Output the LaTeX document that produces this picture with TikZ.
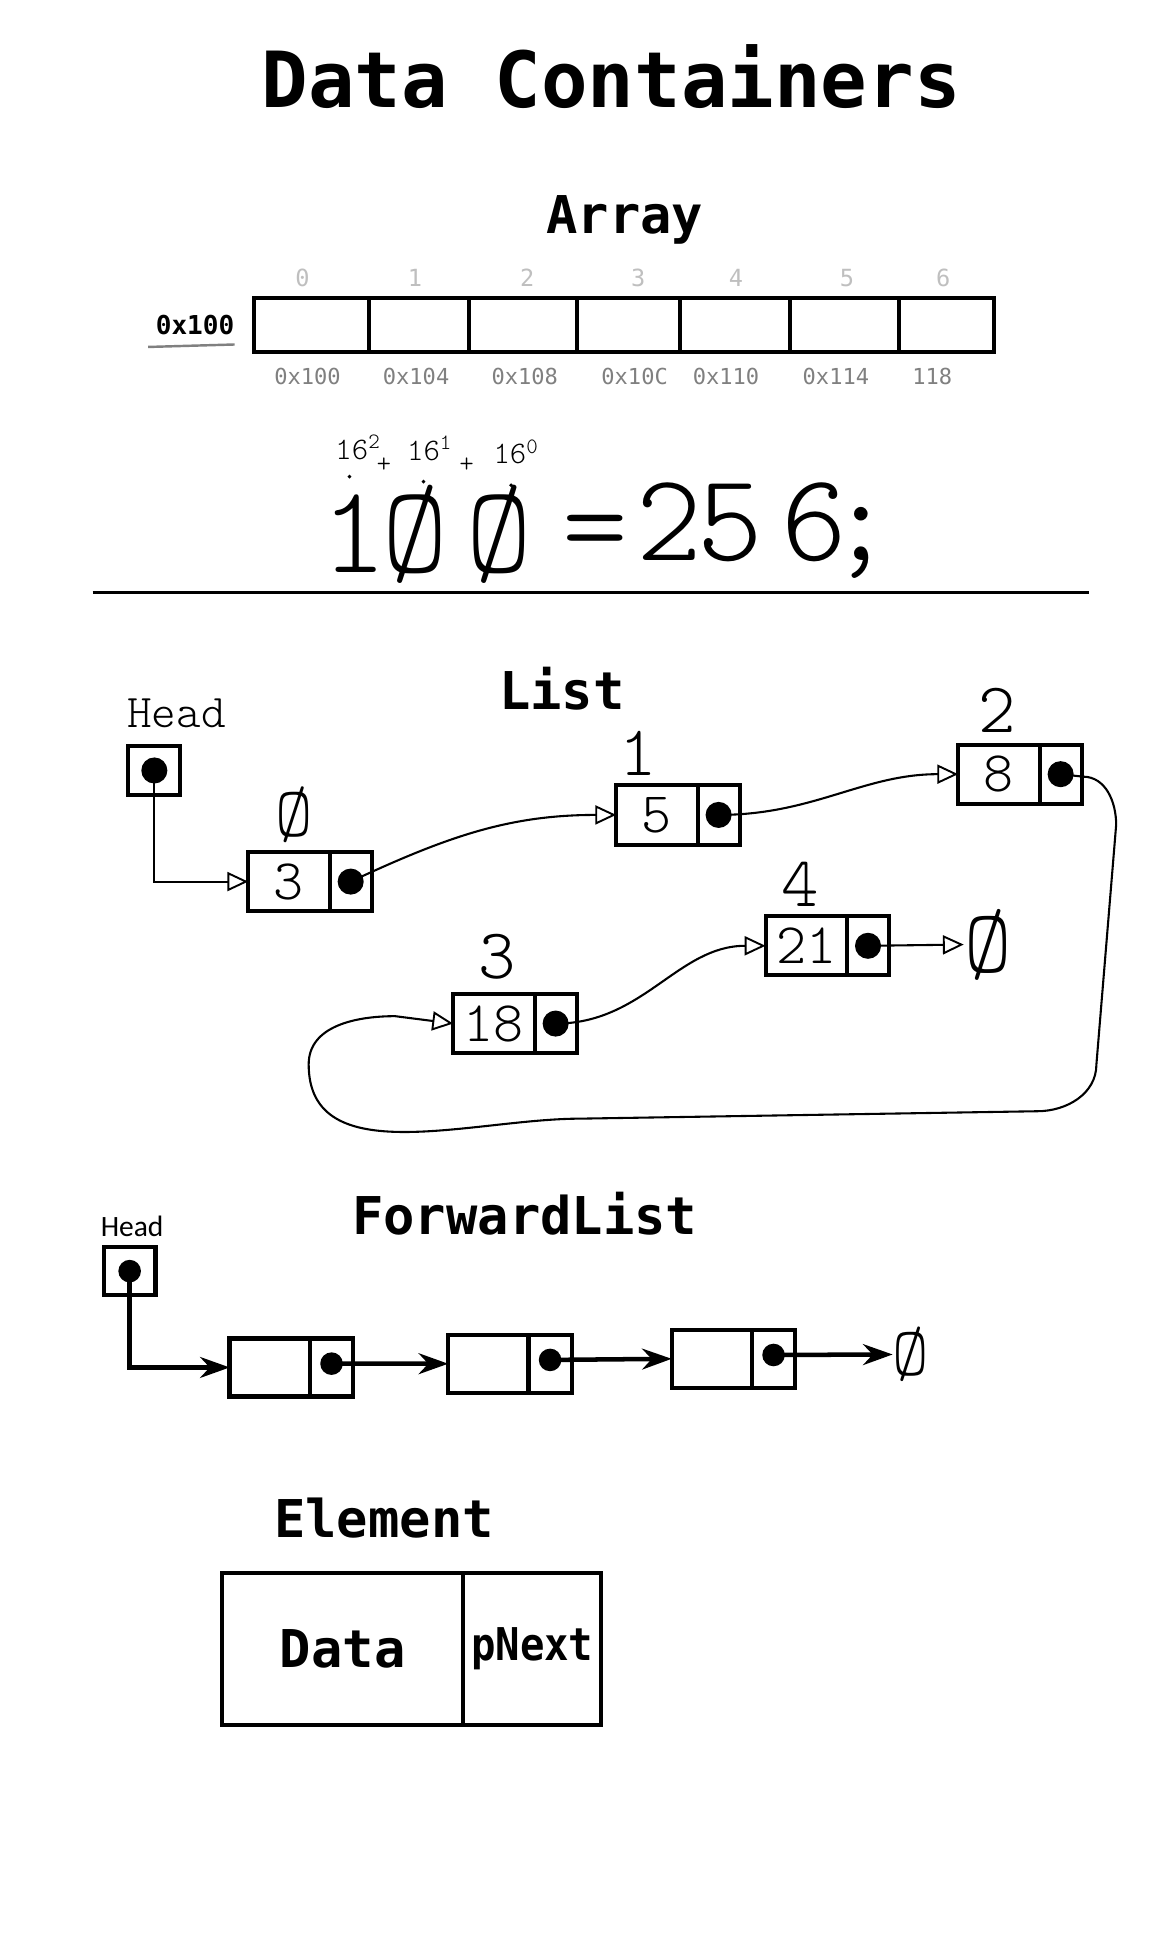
\documentclass[tikz,border=0pt]{standalone}
\usepackage{fontspec}
\setmonofont{DejaVu Sans Mono}
\newfontfamily\headfont{Carlito}
\newfontfamily\handfont{lmmonolt10-regular.otf}
\usetikzlibrary{arrows.meta}

\tikzset{
  title/.style={font=\ttfamily\bfseries\fontsize{30}{36}\selectfont, anchor=base, inner sep=0pt},
  hand/.style={font=\handfont\fontsize{#1}{#1}\selectfont, inner sep=0pt},
  hand/.default=41,
  box/.style={draw, line width=2.3pt, outer sep=0pt, inner sep=0pt},
  arrcell/.style={box, minimum height=1.1cm, anchor=north west},
  idx/.style={font=\ttfamily\fontsize{13.6}{16}\selectfont, text=black!25, anchor=base, inner sep=0pt},
  addr/.style={font=\ttfamily\fontsize{12.7}{15}\selectfont, text=black!50, anchor=base, inner sep=0pt},
  headbox/.style={box, minimum width=1.05cm, minimum height=1cm, anchor=north west},
  datacell/.style={box, minimum width=1.65cm, minimum height=1.2cm, anchor=north west, font=\handfont\fontsize{33}{33}\selectfont},
  ptrcell/.style={box, minimum width=0.85cm, minimum height=1.2cm, anchor=west},
  fdatacell/.style={box, line width=2.5pt, minimum width=1.625cm, minimum height=1.175cm, anchor=north west},
  fptrcell/.style={box, line width=2.5pt, minimum width=0.875cm, minimum height=1.175cm, anchor=west},
  ptrdot/.style={circle, fill, inner sep=0pt, minimum size=15pt},
  fptrdot/.style={circle, fill, inner sep=0pt, minimum size=13pt},
  link/.style={line width=1.2pt, -{Triangle[open, length=12pt, width=11pt, line width=1.1pt]}},
  flink/.style={line width=2.6pt, -{Stealth[length=17pt, width=12pt]}},
}

\begin{document}
\begin{tikzpicture}[x=0.025cm, y=-0.025cm]
  \fill[white] (0,0) rectangle (940,1568);
  \useasboundingbox (0,0) rectangle (940,1568);

  % title
  \node[title, font=\ttfamily\bfseries\fontsize{44.6}{50}\selectfont] (top) at (495,87) {Data Containers};

  %%% Array
  \node[title] (arr) at (506,189) {Array};
  \node[anchor=base, inner sep=0pt, font=\ttfamily\bfseries\fontsize{15}{18}\selectfont] (start) at (158,271) {0x100};
  \draw[line width=1.4pt, color=black!50] (120,281) -- (190,279);

  \foreach \i/\a/\b/\lx/\ax/\addr in {0/206/299/245/249/0x100, 1/299/380/336/337/0x104,
      2/380/467/427/425/0x108, 3/467/551/517/514/0x10C, 4/551/640/596/588/0x110,
      5/640/728/686/677/0x114, 6/728/805/764/755/118}
  {
    \node[arrcell, minimum width={(\b-\a)*0.025cm}] (a\i) at (\a,241) {};
    \node[idx] (i\i) at (\lx,232) {\i};
    \node[addr] (m\i) at (\ax,311) {\addr};
  }

  % 100 = 256
  \node[hand=18] (e2) at (290,362) {16\textsuperscript{2}};
  \node[hand=16] (s1) at (311,377) {+};
  \node[hand=18] (e1) at (348,363) {16\textsuperscript{1}};
  \node[hand=16] (s2) at (378,377) {+};
  \node[hand=18] (e0) at (418,366) {16\textsuperscript{0}};
  \fill (283,386) circle (1.6);
  \fill (343,390) circle (1.6);
  \fill (414,393) circle (1.6);

  \node[hand=72] (hundred) at (346,433) {1\kern-3pt Ø\kern11pt Ø};
  \node[hand=72] (eq) at (482,438) {=};
  \node[hand=72] (result) at (620,430) {2\kern-3pt 5\kern11pt 6\kern-11pt ;};

  \draw[line width=2pt] (75,480) -- (882,480);

  %%% List
  \node[title] (lst) at (455,575) {List};
  \node[hand=27] (lheadlbl) at (143,578) {Head};
  \node[headbox] (lh) at (104,604) {};
  \node[ptrdot] (lho) at (lh.center) {};

  \node[datacell] (l0d) at (201,690) {3};
  \node[ptrcell] (l0p) at (l0d.east) {};
  \node[ptrdot] (l0o) at (l0p.center) {};
  \node[hand] (l0n) at (238,660) {Ø};

  \node[datacell] (l1d) at (499,636) {5};
  \node[ptrcell] (l1p) at (l1d.east) {};
  \node[ptrdot] (l1o) at (l1p.center) {};
  \node[hand] (l1n) at (517,610) {1};

  \node[datacell] (l2d) at (776,603) {8};
  \node[ptrcell] (l2p) at (l2d.east) {};
  \node[ptrdot] (l2o) at (l2p.center) {};
  \node[hand] (l2n) at (808,575) {2};

  \node[datacell] (l3d) at (367,805) {18};
  \node[ptrcell] (l3p) at (l3d.east) {};
  \node[ptrdot] (l3o) at (l3p.center) {};
  \node[hand] (l3n) at (403,775) {3};

  \node[datacell] (l4d) at (620,742) {21};
  \node[ptrcell] (l4p) at (l4d.east) {};
  \node[ptrdot] (l4o) at (l4p.center) {};
  \node[hand] (l4n) at (648,716) {4};

  \node[hand=52] (lnull) at (800,765) {Ø};

  \draw[link] (lho.center) |- (l0d.west);
  \draw[link] (l0o.center) to[out=25, in=180] (l1d.west);
  \draw[link] (l1o.center) to[out=0, in=180] (l2d.west);
  \draw[link] (l2o.center) -- ++(18,2) to[out=0, in=90] (904,668) -- (888,862)
    to[out=-90, in=0] (840,900) -- (470,906) to[out=180, in=-90] (250,862)
    to[out=90, in=180] (320,823) -- (l3d.west);
  \draw[link] (l3o.center) to[out=0, in=180] (l4d.west);
  \draw[link] (l4o.center) -- (lnull.west);

  %%% ForwardList
  \node[title] (fwd) at (425,1000) {ForwardList};
  \node[font=\headfont\fontsize{17}{20}\selectfont, inner sep=0pt] (fheadlbl) at (107,993) {Head};
  \node[headbox, line width=2.5pt, minimum height=0.975cm] (fh) at (84,1010) {};
  \node[fptrdot] (fho) at (fh.center) {};

  \node[fdatacell] (f1d) at (186,1084) {};
  \node[fptrcell] (f1p) at (f1d.east) {};
  \node[fptrdot] (f1o) at ([yshift=2.2pt]f1p.center) {};

  \node[fdatacell] (f2d) at (363,1081) {};
  \node[fptrcell] (f2p) at (f2d.east) {};
  \node[fptrdot] (f2o) at ([yshift=2.2pt]f2p.center) {};

  \node[fdatacell] (f3d) at (544,1077) {};
  \node[fptrcell] (f3p) at (f3d.east) {};
  \node[fptrdot] (f3o) at ([yshift=2.2pt]f3p.center) {};

  \node[hand=40] (fnull) at (738,1097) {Ø};

  \draw[flink] (fho.center) |- (f1d.west);
  \draw[flink] (f1o.center) -- (f2d.west);
  \draw[flink] (f2o.center) -- (f3d.west);
  \draw[flink] (f3o.center) -- (fnull.west);

  %%% Element
  \node[title] (elt) at (311,1245) {Element};
  \node[box, minimum width=4.875cm, minimum height=3.075cm, anchor=north west,
    font=\ttfamily\bfseries\fontsize{30}{36}\selectfont] (eld) at (180,1274) {Data};
  \node[box, minimum width=2.8cm, minimum height=3.075cm, anchor=west,
    font=\ttfamily\bfseries\fontsize{26}{30}\selectfont] (elp) at (eld.east) {\scalebox{0.9}[1]{pNext}};
\end{tikzpicture}
\end{document}
